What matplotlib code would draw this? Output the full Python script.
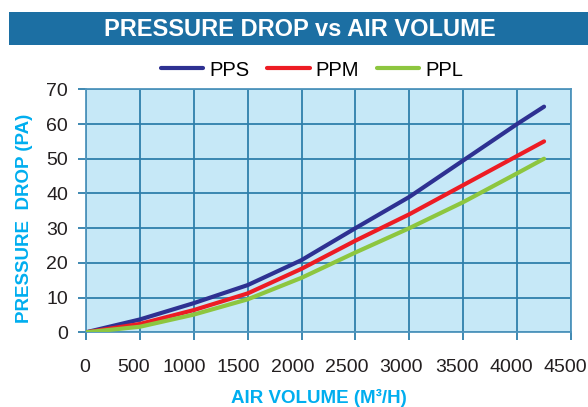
import matplotlib
matplotlib.use("Agg")
import matplotlib.pyplot as plt
from matplotlib.patches import Rectangle
from matplotlib.transforms import ScaledTranslation

# Data
air_volume = [0, 500, 1000, 1500, 2000, 2500, 3000, 3500, 4000, 4250]
pps = [0, 3.7, 8.4, 13.6, 20.8, 30.0, 39.0, 49.5, 60.0, 65.0]
ppm = [0, 2.4, 6.4, 11.2, 18.3, 26.4, 34.0, 42.4, 50.8, 55.0]
ppl = [0, 1.6, 5.1, 9.5, 15.7, 23.0, 30.0, 37.5, 45.8, 50.0]
series_names = ["PPS", "PPM", "PPL"]
x_ticks = [0, 500, 1000, 1500, 2000, 2500, 3000, 3500, 4000, 4500]
y_ticks = [0, 10, 20, 30, 40, 50, 60, 70]

plt.rcParams['font.family'] = ['Liberation Sans', 'DejaVu Sans']

W, H = 588, 407
fig = plt.figure(figsize=(W / 100, H / 100), dpi=100)

# Title banner
fig.patches.append(Rectangle((9 / W, 1 - 45 / H), (W - 9) / W, 33 / H,
                             transform=fig.transFigure, facecolor="#1c6fa3",
                             edgecolor="none", zorder=0))
fig.text(300 / W, 1 - 30 / H, "PRESSURE DROP vs AIR VOLUME", color="white",
         fontsize=17, fontweight="bold", ha="center", va="center")

ax = fig.add_axes([86 / W, 1 - 332.3 / H, (571 - 86) / W, (332.3 - 89.3) / H])
ax.set_facecolor("#c6e8f7")

colors = ["#2e3192", "#ed1c24", "#8dc63f"]
for ys, c, n in zip([pps, ppm, ppl], colors, series_names):
    ax.plot(air_volume, ys, color=c, lw=3, label=n, solid_capstyle="round",
            solid_joinstyle="round", zorder=3)

ax.set_xlim(0, 4500)
ax.set_ylim(0, 70)
ax.set_xticks(x_ticks)
ax.set_yticks(y_ticks)
gc = "#2f7fab"
ax.grid(True, color=gc, lw=1.3, zorder=1)
ax.set_axisbelow(True)
for s in ax.spines.values():
    s.set_color("#4f95bd")
    s.set_linewidth(1.3)
ax.tick_params(axis="x", direction="out", length=6, width=1.3, color=gc,
               pad=13, labelsize=14, labelcolor="#231f20")
ax.tick_params(axis="y", direction="out", length=6, width=1.3, color=gc,
               pad=7, labelsize=14, labelcolor="#231f20")

# shift x tick labels slightly left as in the reference
x_label_shift_px = [-1, -6, -10, -9, -9, -9, -8, -6, -6, -6]
for lbl, dx in zip(ax.get_xticklabels(), x_label_shift_px):
    lbl.set_transform(lbl.get_transform() + ScaledTranslation(dx / 100, 0, fig.dpi_scale_trans))

ax.set_xlabel("AIR VOLUME (M³/H)", color="#00aeef", fontsize=13.5,
              fontweight="bold", va="top")
ax.xaxis.set_label_coords(0.48, -0.235)
ax.set_ylabel("PRESSURE  DROP (PA)", color="#00aeef", fontsize=13.5,
              fontweight="bold")
ax.yaxis.set_label_coords(-0.11, 0.47)

leg = fig.legend(loc="center", bbox_to_anchor=(312 / W, 1 - 70 / H), ncol=3,
                 frameon=False, fontsize=14.5, handlelength=2.1, columnspacing=0.9,
                 handletextpad=0.3)
for line in leg.get_lines():
    line.set_linewidth(3)

fig.savefig("out.png", dpi=100)
